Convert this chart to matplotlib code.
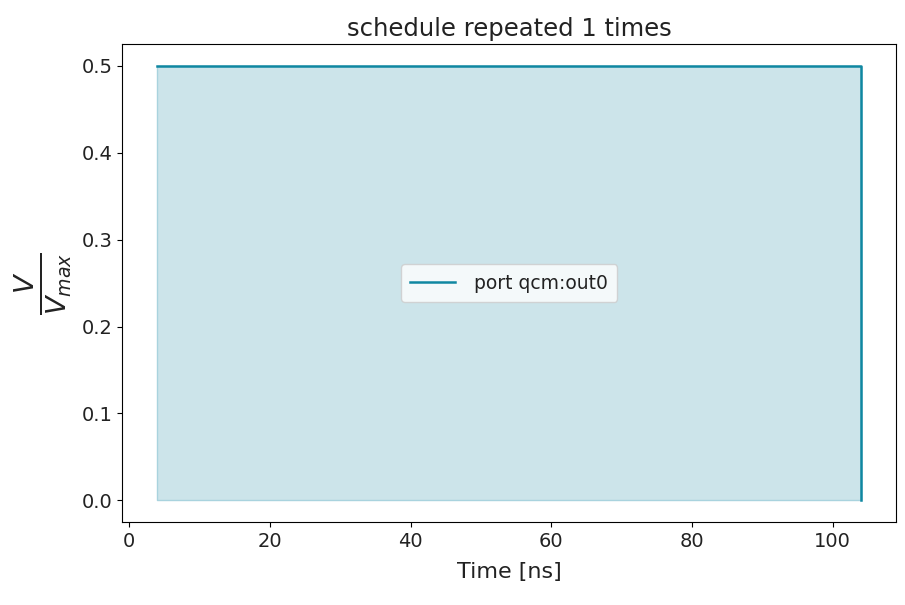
import matplotlib
matplotlib.use("Agg")
import matplotlib.pyplot as plt
import numpy as np

plt.rcParams['font.family'] = ['DejaVu Sans']

# waveform samples (ns, normalised amplitude)
t = np.array([4.0, 104.0, 104.0])
v = np.array([0.5, 0.5, 0.0])
label = 'port qcm:out0'

line_col = '#0f87a1'
fill_col = '#cce4ea'
text_col = '#222222'

fig, ax = plt.subplots(figsize=(9.05, 6.05), dpi=100)
ax.fill_between(t, v, color=fill_col, edgecolor='#a9d3de', linewidth=1)
ax.plot(t, v, color=line_col, linewidth=1.8, label=label)

ax.set_title('schedule repeated 1 times', fontsize=17.5, color=text_col)
ax.set_xlabel('Time [ns]', fontsize=16, color=text_col, labelpad=8)
ax.set_ylabel(r'$\frac{V}{V_{max}}$', fontsize=28, color=text_col, labelpad=6)
ax.tick_params(labelsize=14, labelcolor=text_col)
ax.set_xlim(-1, 109)
ax.set_ylim(-0.025, 0.525)
ax.set_yticks([0.0, 0.1, 0.2, 0.3, 0.4, 0.5])

leg = ax.legend(loc='center', fontsize=13.5, frameon=True, fancybox=True,
                borderpad=0.5, handlelength=2.4, handletextpad=1.0)
leg.get_frame().set_facecolor('#ffffff')
leg.get_frame().set_alpha(0.8)
leg.get_frame().set_edgecolor('#cccccc')
for txt in leg.get_texts():
    txt.set_color(text_col)

fig.subplots_adjust(left=0.135, right=0.99, top=0.927, bottom=0.137)
fig.savefig('out.png', dpi=100)
